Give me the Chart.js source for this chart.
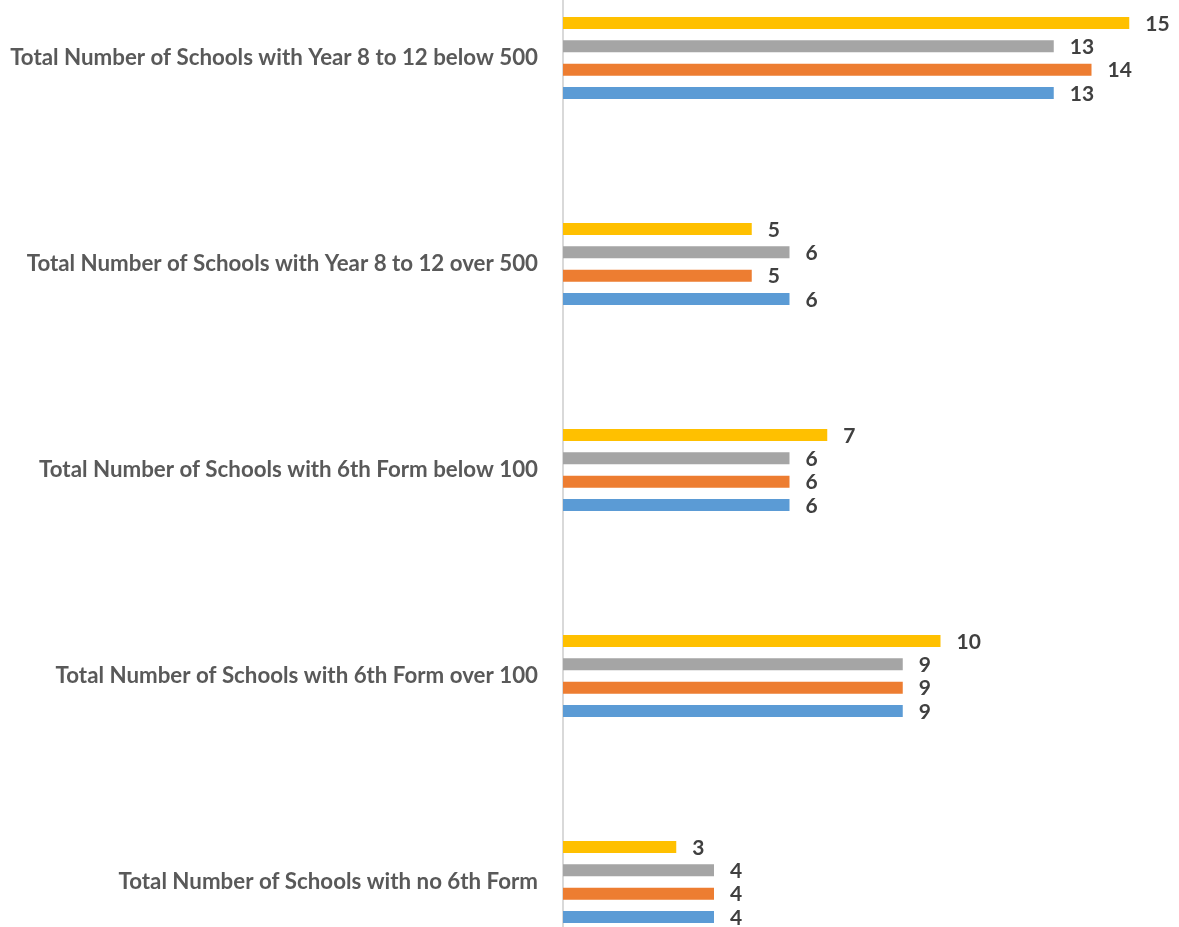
<!DOCTYPE html>
<html>
<head>
<meta charset="utf-8">
<script src="https://cdn.jsdelivr.net/npm/chart.js@4.4.1/dist/chart.umd.min.js"></script>
<style>
  html, body { margin: 0; padding: 0; background: #ffffff; overflow: hidden; width: 1179px; height: 927px; }
  #c { position: absolute; left: 0; top: -45px; }
</style>
</head>
<body>
<canvas id="c" width="1179" height="1030" style="width:1179px;height:1030px;"></canvas>
<script>
const categories = [
  "Total Number of Schools with Year 8 to 12 below 500",
  "Total Number of Schools with Year 8 to 12 over 500",
  "Total Number of Schools with 6th Form below 100",
  "Total Number of Schools with 6th Form over 100",
  "Total Number of Schools with no 6th Form"
];
const seriesNames = ["Series 4", "Series 3", "Series 2", "Series 1"];
const yellowValues = [15, 5, 7, 10, 3];
const grayValues   = [13, 6, 6, 9, 4];
const orangeValues = [14, 5, 6, 9, 4];
const blueValues   = [13, 6, 6, 9, 4];
const xMin = 0;
const xMax = 16;

const FONT = "Lato, 'Noto Sans', sans-serif";
const CAT_SIZE = 22.3;
const LABEL_SIZE = 21;

const valueLabels = {
  id: 'valueLabels',
  afterDatasetsDraw(chart) {
    const ctx = chart.ctx;
    ctx.save();
    ctx.font = "bold " + LABEL_SIZE + "px " + FONT;
    ctx.fillStyle = "#404040";
    ctx.textAlign = "left";
    ctx.textBaseline = "middle";
    chart.data.datasets.forEach((ds, di) => {
      const meta = chart.getDatasetMeta(di);
      meta.data.forEach((el, i) => {
        ctx.fillText(String(ds.data[i]), el.x + 16, el.y + 1);
      });
    });
    ctx.restore();
  }
};

new Chart(document.getElementById('c'), {
  type: 'bar',
  data: {
    labels: categories,
    datasets: [
      { label: seriesNames[0], data: yellowValues, backgroundColor: '#FFC000' },
      { label: seriesNames[1], data: grayValues,   backgroundColor: '#A5A5A5' },
      { label: seriesNames[2], data: orangeValues, backgroundColor: '#ED7D31' },
      { label: seriesNames[3], data: blueValues,   backgroundColor: '#5B9BD5' }
    ]
  },
  options: {
    indexAxis: 'y',
    responsive: false,
    animation: false,
    datasets: { bar: { categoryPercentage: 0.453, barPercentage: 0.515 } },
    layout: { padding: { left: 0, right: 12, top: 0, bottom: 0 } },
    plugins: { legend: { display: false }, tooltip: { enabled: false } },
    scales: {
      x: { display: false, min: xMin, max: xMax },
      y: {
        grid: { display: false, drawTicks: false },
        border: { display: true, color: '#d9d9d9', width: 2 },
        ticks: { color: '#595959', padding: 25, font: { family: FONT, size: CAT_SIZE, weight: 'bold' } },
        afterFit(scale) { scale.width = 563; scale.paddingTop = 0; scale.paddingBottom = 0; }
      }
    }
  },
  plugins: [valueLabels]
});
</script>
</body>
</html>
